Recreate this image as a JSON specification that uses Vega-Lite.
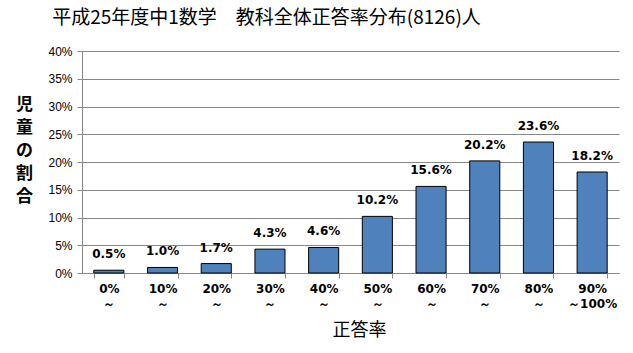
{
  "$schema": "https://vega.github.io/schema/vega-lite/v6.json",
  "width": 537,
  "height": 222,
  "autosize": {"type": "none"},
  "padding": {"left": 82, "top": 51, "right": 13, "bottom": 80},
  "background": "white",
  "title": {
    "text": "平成25年度中1数学　教科全体正答率分布(8126)人",
    "font": "Noto Sans CJK JP",
    "fontSize": 19,
    "fontWeight": "normal",
    "color": "black",
    "anchor": "middle",
    "frame": "group",
    "dx": -84,
    "offset": 17
  },
  "data": {
    "values": [
      {"cat": "0%|～", "v": 0.005, "lab": "0.5%"},
      {"cat": "10%|～", "v": 0.010, "lab": "1.0%"},
      {"cat": "20%|～", "v": 0.017, "lab": "1.7%"},
      {"cat": "30%|～", "v": 0.043, "lab": "4.3%"},
      {"cat": "40%|～", "v": 0.046, "lab": "4.6%"},
      {"cat": "50%|～", "v": 0.102, "lab": "10.2%"},
      {"cat": "60%|～", "v": 0.156, "lab": "15.6%"},
      {"cat": "70%|～", "v": 0.202, "lab": "20.2%"},
      {"cat": "80%|～", "v": 0.236, "lab": "23.6%"},
      {"cat": "90%|～100%", "v": 0.182, "lab": "18.2%"}
    ]
  },
  "encoding": {
    "x": {
      "field": "cat",
      "type": "nominal",
      "sort": null,
      "scale": {"paddingInner": 0.44, "paddingOuter": 0.22},
      "axis": {
        "title": "正答率",
        "titleFont": "Noto Sans CJK JP",
        "titleFontSize": 18,
        "titleFontWeight": "normal",
        "titleColor": "black",
        "titleX": 277,
        "titleY": 57,
        "titleBaseline": "middle",
        "titleAlign": "center",
        "labelExpr": "split(datum.label, '|')",
        "labelAngle": 0,
        "labelFont": "DejaVu Sans",
        "labelFontSize": 12,
        "labelFontWeight": "bold",
        "labelColor": "black",
        "labelLineHeight": 15,
        "labelPadding": 5,
        "labelBaseline": "top",
        "tickBand": "extent",
        "tickSize": 5,
        "tickColor": "#888888",
        "domainColor": "#888888",
        "grid": false
      }
    },
    "y": {
      "field": "v",
      "type": "quantitative",
      "scale": {"domain": [0, 0.4]},
      "axis": {
        "values": [0, 0.05, 0.1, 0.15, 0.2, 0.25, 0.3, 0.35, 0.4],
        "format": ".0%",
        "title": ["児", "童", "の", "割", "合"],
        "titleFont": "Noto Sans CJK JP",
        "titleFontSize": 17,
        "titleFontWeight": "bold",
        "titleColor": "black",
        "titleAngle": 0,
        "titleAlign": "center",
        "titleBaseline": "top",
        "titleLineHeight": 23,
        "titleX": -58,
        "titleY": 45,
        "labelFont": "Liberation Sans",
        "labelFontSize": 12,
        "labelColor": "black",
        "labelPadding": 5,
        "tickSize": 5,
        "tickColor": "#888888",
        "domainColor": "#888888",
        "gridColor": "#888888",
        "gridWidth": 1
      }
    }
  },
  "layer": [
    {
      "mark": {"type": "bar", "color": "#4F81BD", "stroke": "black", "strokeWidth": 1}
    },
    {
      "mark": {
        "type": "text",
        "baseline": "bottom",
        "dy": -9,
        "font": "DejaVu Sans",
        "fontSize": 12,
        "fontWeight": "bold",
        "color": "black"
      },
      "encoding": {"text": {"field": "lab"}}
    }
  ],
  "config": {"view": {"stroke": null}}
}
